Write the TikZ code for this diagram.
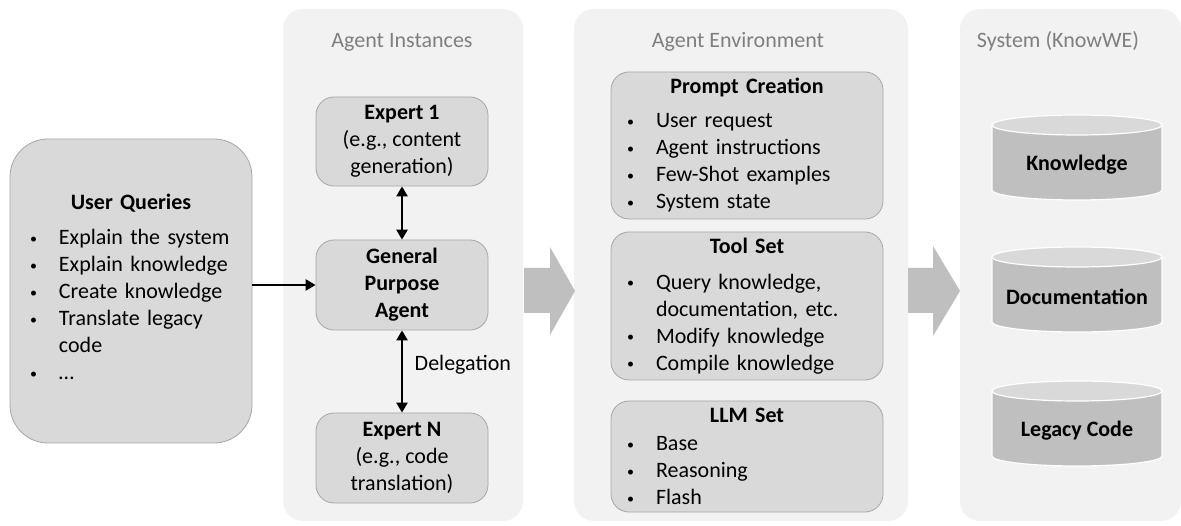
\documentclass[tikz,border=0pt]{standalone}
\usepackage{fontspec}
\setmainfont{Carlito}
\usepackage{tikz}
\usetikzlibrary{positioning}
\usetikzlibrary{arrows.meta}

\definecolor{panelfill}{HTML}{F2F2F2}
\definecolor{boxfill}{HTML}{D9D9D9}
\definecolor{boxline}{HTML}{A6A6A6}
\definecolor{titlegray}{HTML}{7F7F7F}
\definecolor{arrowfill}{HTML}{BFBFBF}

% bullet list used inside the boxes
\newcommand{\smalldot}{\raisebox{1.5pt}{\fontsize{14}{14}\selectfont\textbullet}}
\newenvironment{dotlist}[1][8pt]{%
  \begin{list}{\makebox[0pt][c]{\smalldot}}{%
      \setlength{\leftmargin}{32pt}%
      \setlength{\labelwidth}{0pt}%
      \setlength{\labelsep}{25.5pt}%
      \setlength{\topsep}{#1}%
      \setlength{\partopsep}{0pt}%
      \setlength{\itemsep}{0pt}%
      \setlength{\parsep}{0pt}}%
  \raggedright}
  {\end{list}}

\begin{document}
\begin{tikzpicture}[x=1pt, y=-1pt,
    nodes={font=\fontsize{22}{27}\selectfont},
    panel_style/.style={rectangle, rounded corners=20pt, fill=panelfill, inner sep=0pt},
    box_style/.style={rectangle, rounded corners=18pt, draw=boxline, fill=boxfill,
      line width=0.8pt, align=center, inner sep=0pt},
    head_style/.style={text=titlegray, anchor=base},
    flow_style/.style={line width=2.8pt, -{Triangle[length=10pt, width=11pt]}},
    both_style/.style={line width=2.8pt,
      {Triangle[length=10pt, width=11pt]}-{Triangle[length=10pt, width=11pt]}},
    block_style/.style={fill=arrowfill},
    cyl_body/.style={fill=arrowfill, draw=white, line width=1.2pt},
    cyl_top/.style={fill=boxfill, draw=white, line width=1.2pt}]

  \useasboundingbox (0,0) rectangle (1181,526);

  % background panels
  \node[panel_style, minimum width=240pt, minimum height=512pt] (inst) at (403,265) {};
  \node[panel_style, minimum width=334pt, minimum height=512pt] (env) at (741,265) {};
  \node[panel_style, minimum width=221pt, minimum height=512pt] (sys) at (1070.5,265) {};

  \node[head_style] (inst_head) at (402,48) {Agent Instances};
  \node[head_style] (env_head) at (738,48) {Agent Environment};
  \node[head_style] (sys_head) at (1058,48) {System (KnowWE)};

  % user side
  \node[box_style, rounded corners=38pt, minimum width=242pt, minimum height=304pt,
    text width=208pt] (uq) at (131,291) {\textbf{User Queries}\par
    \begin{dotlist}[8pt]
      \item Explain the system
      \item Explain knowledge
      \item Create knowledge
      \item Translate legacy code
      \item …
    \end{dotlist}\par\vspace*{14pt}};

  % agents
  \node[box_style, minimum width=172pt, minimum height=89pt] (exp_one) at (402,141.5)
    {\textbf{Expert 1}\\(e.g., content\\generation)};
  \node[box_style, minimum width=172pt, minimum height=90pt] (gpa) at (402,285)
    {\textbf{General}\\\textbf{Purpose}\\\textbf{Agent}};
  \node[box_style, minimum width=172pt, minimum height=90pt] (exp_n) at (402,458)
    {\textbf{Expert N}\\(e.g., code\\translation)};

  % environment
  \node[box_style, minimum width=272pt, minimum height=147pt, text width=246pt]
    (prompt) at (747,145.5) {\textbf{Prompt Creation}\par
    \begin{dotlist}[7pt]
      \item User request
      \item Agent instructions
      \item Few-Shot examples
      \item System state
    \end{dotlist}};
  \node[box_style, minimum width=272pt, minimum height=148pt, text width=246pt]
    (tools) at (747,306) {\textbf{Tool Set}\par
    \begin{dotlist}[9pt]
      \item Query knowledge, documentation, etc.
      \item Modify knowledge
      \item Compile knowledge
    \end{dotlist}};
  \node[box_style, minimum width=272pt, minimum height=111pt, text width=246pt]
    (llms) at (747,456.5) {\textbf{LLM Set}\par
    \begin{dotlist}[1pt]
      \item Base
      \item Reasoning
      \item Flash
    \end{dotlist}};

  % system stores
  \foreach \ytop/\cname/\ctext in {115/know/Knowledge, 247/docs/Documentation,
      381/legacy/Legacy Code} {
    \filldraw[cyl_body] (992,\ytop+10) -- (992,\ytop+75)
      arc[start angle=180, end angle=0, x radius=85, y radius=10] -- (1162,\ytop+10) -- cycle;
    \filldraw[cyl_top] (1077,\ytop+10) ellipse [x radius=85, y radius=10];
    \node (\cname) at (1077,\ytop+50) {\textbf{\ctext}};
  }

  % big arrows between the panels
  \fill[block_style] (524,268) -- (550,268) -- (550,247) -- (575,291)
    -- (550,335) -- (550,313) -- (524,313) -- cycle;
  \fill[block_style] (908,268) -- (933,268) -- (933,246) -- (960,291)
    -- (933,336) -- (933,313) -- (908,313) -- cycle;

  \draw[flow_style] (uq.east |- gpa.west) -- (gpa.west);
  \draw[both_style] (exp_one) -- (gpa);
  \draw[both_style] (gpa) -- (exp_n) node[pos=0.42, right=8pt] (deleg) {Delegation};
\end{tikzpicture}
\end{document}
